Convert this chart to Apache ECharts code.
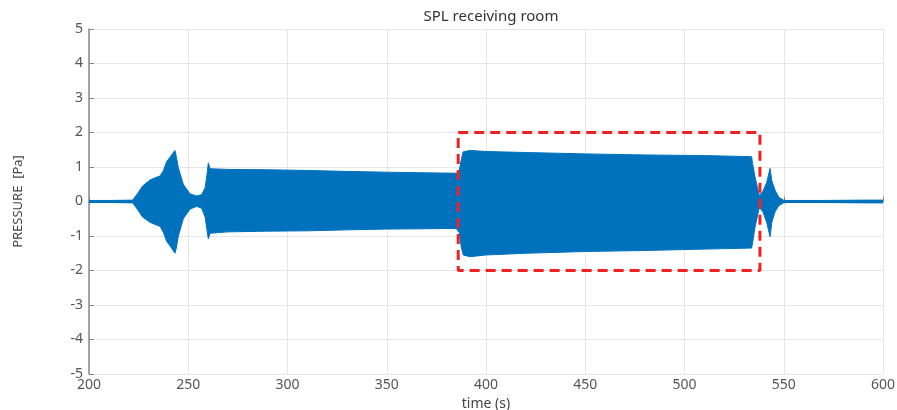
<!DOCTYPE html>
<html>
<head>
    <meta charset="UTF-8">
    <title>SPL receiving room</title>
    <script type="text/javascript" src="https://cdn.jsdelivr.net/npm/echarts@6/dist/echarts.min.js"></script>
    <style>
    html, body { margin: 0; padding: 0; background: #fff; }
    #chart { width: 897px; height: 410px; }
    </style>
</head>
<body>
<div id="chart"></div>
<script>
// envelope of the pressure signal
var envTime = [200, 210, 222, 222.8, 224.7, 227, 230.7, 233, 235.8, 237.5, 239.1, 241, 243.3, 244, 245, 247.5,
    250.9, 254.3, 256.8, 258.5, 259.5, 260.1, 261, 270, 290, 310, 331.5, 350, 370, 385, 386.5, 387.5, 388.5,
    392, 400, 420, 450, 480, 510, 533.8, 534.3, 535.5, 537.7, 539.5, 541.4, 543.1, 544, 545.6, 547.5, 549.8,
    552, 570, 590, 600];
var envUpper = [0.03, 0.03, 0.04, 0.1, 0.25, 0.45, 0.62, 0.68, 0.74, 0.9, 1.15, 1.3, 1.48, 1.3, 0.98, 0.5,
    0.22, 0.16, 0.2, 0.4, 0.8, 1.12, 0.95, 0.93, 0.92, 0.9, 0.87, 0.85, 0.83, 0.82, 0.88, 1.2, 1.44,
    1.48, 1.45, 1.42, 1.38, 1.35, 1.33, 1.3, 1.1, 0.72, 0.17, 0.3, 0.55, 0.96, 0.6, 0.33, 0.12, 0.04,
    0.03, 0.03, 0.04, 0.04];
var envLower = [-0.03, -0.03, -0.04, -0.1, -0.25, -0.45, -0.6, -0.66, -0.72, -0.9, -1.15, -1.3, -1.5, -1.35, -1.0, -0.5,
    -0.22, -0.14, -0.2, -0.45, -0.85, -1.08, -0.92, -0.88, -0.86, -0.85, -0.82, -0.8, -0.79, -0.78, -0.9, -1.3, -1.55,
    -1.6, -1.55, -1.5, -1.45, -1.42, -1.38, -1.35, -1.2, -0.75, -0.17, -0.3, -0.6, -1.02, -0.6, -0.3, -0.12, -0.04,
    -0.03, -0.03, -0.04, -0.04];

// highlighted window (dashed box)
var boxX = [386, 538];
var boxY = [-2, 2];

var xTicks = [200, 600, 50];
var yTicks = [-5, 5, 1];

function pairs(xs, ys) {
    var out = [];
    for (var i = 0; i < xs.length; i++) out.push([xs[i], ys[i]]);
    return out;
}

var boxData = [[boxX[0], boxY[1]], [boxX[1], boxY[1]], [boxX[1], boxY[0]], [boxX[0], boxY[0]], [boxX[0], boxY[1]]];

var chart = echarts.init(document.getElementById('chart'));
var blue = '#0072bd';
var font = '"Noto Sans", sans-serif';

var option = {
    animation: false,
    title: {
        text: 'SPL receiving room',
        left: 486,
        textAlign: 'center',
        top: 4,
        textStyle: { fontSize: 15, fontWeight: 'normal', color: '#333', fontFamily: font }
    },
    grid: { left: 89, right: 14, top: 29, bottom: 36, outerBoundsMode: 'none', containLabel: false },
    xAxis: {
        type: 'value',
        min: xTicks[0], max: xTicks[1], interval: xTicks[2],
        name: 'time (s)',
        nameLocation: 'middle',
        nameGap: 22,
        nameTextStyle: { fontSize: 14, color: '#444', fontFamily: font },
        axisLine: { show: true, lineStyle: { color: '#888', width: 1.5 } },
        axisTick: { show: true, inside: true, length: 5, lineStyle: { color: '#888' } },
        axisLabel: { fontSize: 14, color: '#555', margin: 4, fontFamily: font },
        splitLine: { show: true, lineStyle: { color: '#e6e6e6' } }
    },
    yAxis: {
        type: 'value',
        min: yTicks[0], max: yTicks[1], interval: yTicks[2],
        name: 'PRESSURE  [Pa]',
        nameLocation: 'middle',
        nameGap: 64,
        nameTextStyle: { fontSize: 13, color: '#444', fontFamily: font },
        axisLine: { show: true, lineStyle: { color: '#888', width: 1.5 } },
        axisTick: { show: true, inside: true, length: 5, lineStyle: { color: '#888' } },
        axisLabel: { fontSize: 14, color: '#555', margin: 6, fontFamily: font },
        splitLine: { show: true, lineStyle: { color: '#e6e6e6' } }
    },
    series: [{
        name: 'upper',
        type: 'line',
        data: pairs(envTime, envUpper),
        symbol: 'none',
        lineStyle: { color: blue, width: 1 },
        // fill slightly past zero so the two halves overlap without a seam
        areaStyle: { color: blue, opacity: 1, origin: -0.03 },
        z: 2
    }, {
        name: 'lower',
        type: 'line',
        data: pairs(envTime, envLower),
        symbol: 'none',
        lineStyle: { color: blue, width: 1 },
        areaStyle: { color: blue, opacity: 1, origin: 0.03 },
        z: 2
    }, {
        name: 'window',
        type: 'line',
        data: boxData,
        symbol: 'none',
        lineStyle: { color: '#ee2222', width: 3, type: [10, 6] },
        z: 5
    }]
};

chart.setOption(option);
</script>
</body>
</html>
